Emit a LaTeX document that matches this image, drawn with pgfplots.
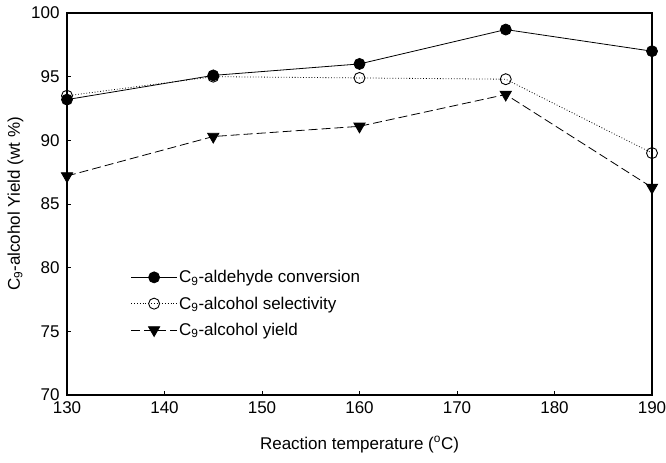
\documentclass[border=0pt]{standalone}
\usepackage{fontspec}
\setmainfont{Liberation Sans}
\usepackage{pgfplots}
\pgfplotsset{compat=1.18}
\begin{document}
\begin{tikzpicture}
\begin{axis}[
  scale only axis,
  width=585bp, height=382bp,
  xmin=130, xmax=190, ymin=70, ymax=100,
  xtick={130,140,...,190}, ytick={70,75,...,100},
  tick align=inside, xtick pos=bottom, ytick pos=left,
  major tick length=4bp,
  axis line style={line width=1.3bp},
  tick style={line width=0.8bp, black},
  /pgf/number format/assume math mode=true,
  ticklabel style={font=\fontsize{17bp}{19bp}\selectfont},
  xticklabel style={yshift=-3bp},
  yticklabel style={xshift=-4bp},
  label style={font=\fontsize{17bp}{19bp}\selectfont},
  xlabel={Reaction temperature (\textsuperscript{o}C)},
  ylabel={C\textsubscript{9}-alcohol Yield (wt \%)},
  xlabel style={yshift=-16bp},
  ylabel style={yshift=1bp},
  legend style={draw=none, fill=none, at={(0.104,0.337)}, anchor=north west,
    font=\fontsize{17bp}{19bp}\selectfont, row sep=8.5bp,
    /tikz/every even column/.append style={column sep=4bp}},
  legend cell align=left,
  legend image code/.code={
    \draw[#1, mark=none] (0cm,0cm) -- (1.6cm,0cm);
    \draw[#1, solid] plot coordinates {(0.8cm,0cm)};},
]
\addplot[black, line width=0.8bp, mark=*, mark size=5.5bp, mark options={solid, fill=black}]
  coordinates {(130,93.2) (145,95.1) (160,96.0) (175,98.7) (190,97.0)};
\addlegendentry{C\textsubscript{9}-aldehyde conversion}
\addplot[black, line width=0.8bp, dotted, mark=o, mark size=5.5bp, mark options={solid, fill=white, line width=0.9bp}]
  coordinates {(130,93.5) (145,95.0) (160,94.9) (175,94.8) (190,89.0)};
\addlegendentry{C\textsubscript{9}-alcohol selectivity}
\addplot[black, line width=0.8bp, dash pattern=on 9bp off 4bp, mark=triangle*, mark size=6.5bp, mark options={solid, fill=black, rotate=180}]
  coordinates {(130,87.2) (145,90.3) (160,91.1) (175,93.6) (190,86.3)};
\addlegendentry{C\textsubscript{9}-alcohol yield}
\end{axis}
\pgfresetboundingbox
\path ([shift={(-67bp,-68bp)}]current axis.south west) rectangle ([shift={(14bp,13bp)}]current axis.north east);
\end{tikzpicture}
\end{document}
